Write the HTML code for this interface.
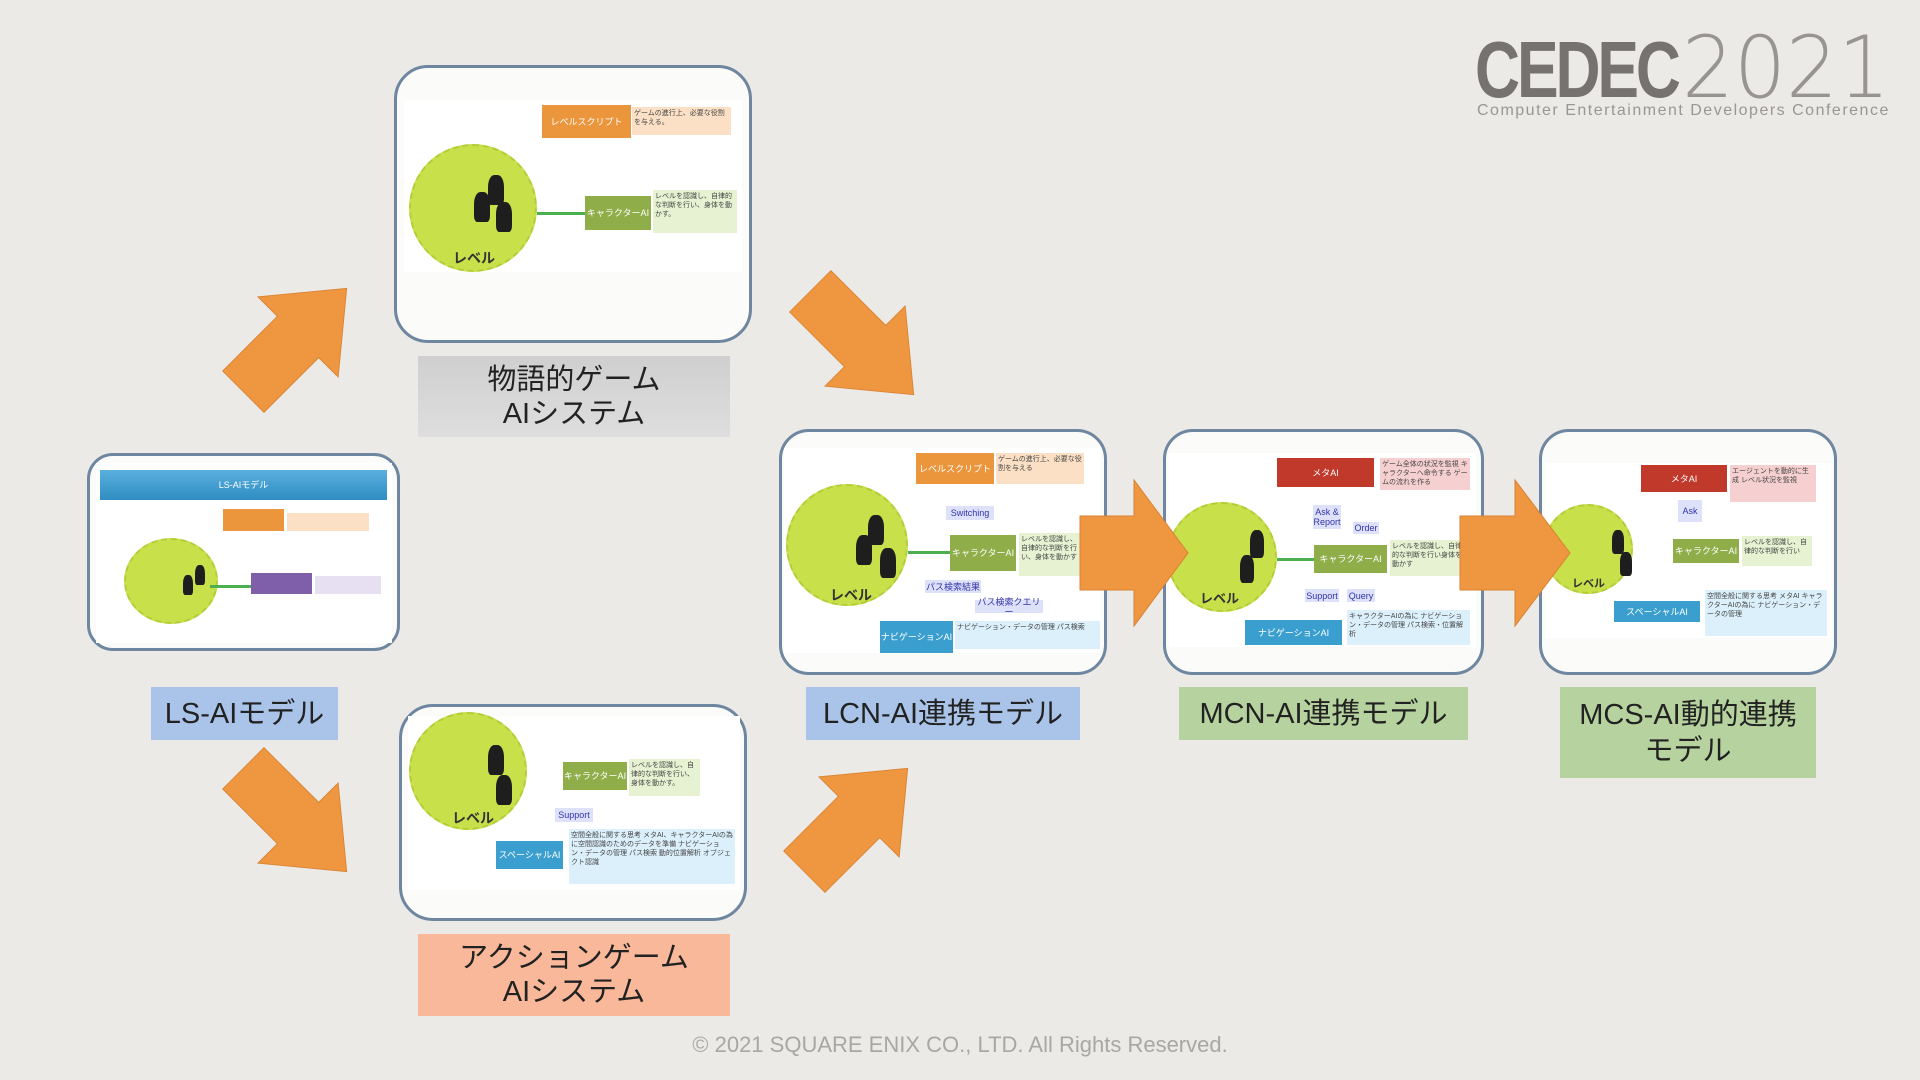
<!DOCTYPE html>
<html><head><meta charset="utf-8"><style>
*{margin:0;padding:0;box-sizing:border-box}
body{width:1920px;height:1080px;background:#ebeae6;position:relative;overflow:hidden;font-family:"Liberation Sans","Noto Sans CJK JP",sans-serif}
.a{position:absolute}
.card{position:absolute;border:3px solid #6e86a0;border-radius:34px;background:#fbfbfa}
.in{position:absolute;background:#fff}
.lbl{position:absolute;display:flex;align-items:center;justify-content:center;text-align:center;font-size:29px;line-height:34px;color:#222}
.b{position:absolute;font-size:9px;color:#fff;display:flex;align-items:center;justify-content:center;text-align:center;line-height:10px}
.n{position:absolute;font-size:7px;color:#444;line-height:9px;padding:2px}
.c{position:absolute;border-radius:50%;background:#c8e04a;border:2px dashed #b5cc38}
.m{position:absolute;background:#1e1e1e;border-radius:40% 40% 20% 20%}
.t{position:absolute;font-size:11px;color:#333;font-weight:bold}
</style></head><body>

<!-- top card -->
<div class="card" style="left:394px;top:65px;width:358px;height:278px"></div>
<div class="in" style="left:404px;top:100px;width:338px;height:172px"></div>
<div class="c" style="left:409px;top:144px;width:128px;height:128px"></div>
<div class="t" style="left:453px;top:248px;font-size:14px">レベル</div>
<div class="m" style="left:488px;top:175px;width:16px;height:30px"></div>
<div class="m" style="left:474px;top:192px;width:16px;height:30px"></div>
<div class="m" style="left:496px;top:202px;width:16px;height:30px"></div>
<div class="b" style="left:542px;top:105px;width:89px;height:33px;background:#eb963c">レベルスクリプト</div>
<div class="n" style="left:632px;top:107px;width:99px;height:28px;background:#fbe0c6">ゲームの進行上、必要な役割を与える。</div>
<div class="b" style="left:585px;top:196px;width:66px;height:34px;background:#8fae4a">キャラクターAI</div>
<div class="n" style="left:653px;top:190px;width:84px;height:43px;background:#e6f2d2">レベルを認識し、自律的な判断を行い、身体を動かす。</div>
<div class="a" style="left:537px;top:212px;width:48px;height:3px;background:#4cb050"></div>

<div class="lbl" style="left:418px;top:356px;width:312px;height:81px;background:linear-gradient(#cfcfcf,#dedede);">物語的ゲーム<br>AIシステム</div>

<!-- LS card -->
<div class="card" style="left:87px;top:453px;width:313px;height:198px;border-radius:26px"></div>
<div class="in" style="left:96px;top:463px;width:296px;height:180px"></div>
<div class="b" style="left:100px;top:470px;width:287px;height:30px;background:linear-gradient(#5ab0de,#2f8dc2)">LS-AIモデル</div>
<div class="c" style="left:124px;top:538px;width:94px;height:86px"></div>
<div class="m" style="left:195px;top:565px;width:10px;height:20px"></div>
<div class="m" style="left:183px;top:575px;width:10px;height:20px"></div>
<div class="b" style="left:223px;top:509px;width:61px;height:22px;background:#eb963c"></div>
<div class="n" style="left:287px;top:513px;width:82px;height:18px;background:#fbe0c6"></div>
<div class="b" style="left:251px;top:573px;width:61px;height:21px;background:#7f5eaa"></div>
<div class="n" style="left:315px;top:576px;width:66px;height:18px;background:#e6e0f2"></div>
<div class="a" style="left:210px;top:585px;width:41px;height:3px;background:#4cb050"></div>
<div class="lbl" style="left:151px;top:687px;width:187px;height:53px;background:#a9c4e8">LS-AIモデル</div>

<!-- bottom card -->
<div class="card" style="left:399px;top:704px;width:348px;height:217px"></div>
<div class="in" style="left:408px;top:716px;width:332px;height:174px"></div>
<div class="c" style="left:409px;top:712px;width:118px;height:118px"></div>
<div class="t" style="left:452px;top:808px;font-size:14px">レベル</div>
<div class="m" style="left:488px;top:745px;width:16px;height:30px"></div>
<div class="m" style="left:496px;top:775px;width:16px;height:30px"></div>
<div class="b" style="left:563px;top:762px;width:64px;height:28px;background:#8fae4a">キャラクターAI</div>
<div class="n" style="left:629px;top:759px;width:71px;height:37px;background:#e6f2d2">レベルを認識し、自律的な判断を行い、身体を動かす。</div>
<div class="b" style="left:555px;top:808px;width:38px;height:14px;background:#dde2fa;color:#33a">Support</div>
<div class="b" style="left:496px;top:841px;width:67px;height:28px;background:#3a9fcf">スペーシャルAI</div>
<div class="n" style="left:569px;top:829px;width:166px;height:55px;background:#dcf0fc">空間全般に関する思考 メタAI、キャラクターAIの為に空間認識のためのデータを準備 ナビゲーション・データの管理 パス検索 動的位置解析 オブジェクト認識</div>
<div class="lbl" style="left:418px;top:934px;width:312px;height:82px;background:#f9b89a">アクションゲーム<br>AIシステム</div>

<!-- LCN -->
<div class="card" style="left:779px;top:429px;width:328px;height:246px;border-radius:30px"></div>
<div class="in" style="left:784px;top:448px;width:316px;height:205px"></div>
<div class="c" style="left:786px;top:484px;width:122px;height:122px"></div>
<div class="t" style="left:830px;top:585px;font-size:14px">レベル</div>
<div class="m" style="left:868px;top:515px;width:16px;height:30px"></div>
<div class="m" style="left:856px;top:535px;width:16px;height:30px"></div>
<div class="m" style="left:880px;top:548px;width:16px;height:30px"></div>
<div class="b" style="left:916px;top:453px;width:78px;height:31px;background:#eb963c">レベルスクリプト</div>
<div class="n" style="left:996px;top:453px;width:88px;height:31px;background:#fbe0c6">ゲームの進行上、必要な役割を与える</div>
<div class="b" style="left:946px;top:506px;width:48px;height:14px;background:#dde2fa;color:#33a">Switching</div>
<div class="b" style="left:950px;top:535px;width:66px;height:36px;background:#8fae4a">キャラクターAI</div>
<div class="n" style="left:1019px;top:533px;width:65px;height:43px;background:#e6f2d2">レベルを認識し、自律的な判断を行い、身体を動かす</div>
<div class="b" style="left:925px;top:580px;width:56px;height:13px;background:#dde2fa;color:#33a">パス検索結果</div>
<div class="b" style="left:975px;top:600px;width:68px;height:13px;background:#dde2fa;color:#33a">パス検索クエリー</div>
<div class="b" style="left:880px;top:621px;width:73px;height:32px;background:#3a9fcf">ナビゲーションAI</div>
<div class="n" style="left:955px;top:621px;width:145px;height:28px;background:#dcf0fc">ナビゲーション・データの管理 パス検索</div>
<div class="a" style="left:908px;top:551px;width:42px;height:3px;background:#4cb050"></div>
<div class="lbl" style="left:806px;top:687px;width:274px;height:53px;background:#a9c4e8">LCN-AI連携モデル</div>

<!-- MCN -->
<div class="card" style="left:1163px;top:429px;width:321px;height:246px;border-radius:30px"></div>
<div class="in" style="left:1169px;top:453px;width:307px;height:194px"></div>
<div class="c" style="left:1167px;top:502px;width:110px;height:110px"></div>
<div class="t" style="left:1200px;top:588px;font-size:13px">レベル</div>
<div class="m" style="left:1250px;top:530px;width:14px;height:28px"></div>
<div class="m" style="left:1240px;top:555px;width:14px;height:28px"></div>
<div class="b" style="left:1277px;top:458px;width:97px;height:29px;background:#c0392b">メタAI</div>
<div class="n" style="left:1380px;top:458px;width:90px;height:32px;background:#f6d0d0">ゲーム全体の状況を監視 キャラクターへ命令する ゲームの流れを作る</div>
<div class="b" style="left:1313px;top:505px;width:28px;height:24px;background:#dde2fa;color:#33a">Ask &amp; Report</div>
<div class="b" style="left:1353px;top:522px;width:26px;height:12px;background:#dde2fa;color:#33a">Order</div>
<div class="b" style="left:1314px;top:545px;width:73px;height:28px;background:#8fae4a">キャラクターAI</div>
<div class="n" style="left:1390px;top:540px;width:80px;height:36px;background:#e6f2d2">レベルを認識し、自律的な判断を行い身体を動かす</div>
<div class="b" style="left:1305px;top:589px;width:34px;height:13px;background:#dde2fa;color:#33a">Support</div>
<div class="b" style="left:1347px;top:589px;width:28px;height:13px;background:#dde2fa;color:#33a">Query</div>
<div class="b" style="left:1245px;top:620px;width:97px;height:25px;background:#3a9fcf">ナビゲーションAI</div>
<div class="n" style="left:1347px;top:610px;width:123px;height:35px;background:#dcf0fc">キャラクターAIの為に ナビゲーション・データの管理 パス検索・位置解析</div>
<div class="a" style="left:1277px;top:558px;width:37px;height:3px;background:#4cb050"></div>
<div class="lbl" style="left:1179px;top:687px;width:289px;height:53px;background:#b6d39f">MCN-AI連携モデル</div>

<!-- MCS -->
<div class="card" style="left:1539px;top:429px;width:298px;height:246px;border-radius:30px"></div>
<div class="in" style="left:1545px;top:463px;width:287px;height:175px"></div>
<div class="c" style="left:1543px;top:504px;width:90px;height:90px"></div>
<div class="t" style="left:1572px;top:575px;font-size:11px">レベル</div>
<div class="m" style="left:1612px;top:530px;width:12px;height:24px"></div>
<div class="m" style="left:1620px;top:552px;width:12px;height:24px"></div>
<div class="b" style="left:1641px;top:465px;width:86px;height:27px;background:#c0392b">メタAI</div>
<div class="n" style="left:1730px;top:465px;width:86px;height:37px;background:#f6d0d0">エージェントを動的に生成 レベル状況を監視</div>
<div class="b" style="left:1678px;top:500px;width:24px;height:22px;background:#dde2fa;color:#33a">Ask</div>
<div class="b" style="left:1673px;top:539px;width:66px;height:24px;background:#8fae4a">キャラクターAI</div>
<div class="n" style="left:1742px;top:536px;width:70px;height:30px;background:#e6f2d2">レベルを認識し、自律的な判断を行い</div>
<div class="b" style="left:1614px;top:601px;width:86px;height:21px;background:#3a9fcf">スペーシャルAI</div>
<div class="n" style="left:1705px;top:590px;width:122px;height:46px;background:#dcf0fc">空間全般に関する思考 メタAI キャラクターAIの為に ナビゲーション・データの管理</div>
<div class="lbl" style="left:1560px;top:687px;width:256px;height:91px;background:#b6d39f;line-height:36px">MCS-AI動的連携<br>モデル</div>

<svg class="a" style="left:0;top:0" width="1920" height="1080">
<defs><polygon id="ar" points="-85,-34 5,-34 5,-66 85,0 5,66 5,34 -85,34"/></defs>
<g fill="#ef9641" stroke="#d98232" stroke-width="1">
<use href="#ar" transform="translate(295,340) rotate(-45) scale(0.86)"/>
<use href="#ar" transform="translate(862,343) rotate(45) scale(0.86)"/>
<use href="#ar" transform="translate(295,820) rotate(45) scale(0.86)"/>
<use href="#ar" transform="translate(856,820) rotate(-45) scale(0.86)"/>
<polygon points="1080,516 1134,516 1134,480 1188,553 1134,626 1134,590 1080,590"/>
<polygon points="1460,516 1515,516 1515,480 1570,553 1515,626 1515,590 1460,590"/>
</g>
</svg>

<!-- logo -->
<div class="a" style="left:1475px;top:30px;font-size:80px;font-weight:bold;color:#767270;letter-spacing:-4px;line-height:80px;transform:scaleX(0.78);transform-origin:left">CEDEC</div>
<div class="a" style="left:1682px;top:26px;font-size:86px;font-weight:100;color:#8a8684;line-height:84px;font-family:'DejaVu Sans','Liberation Sans',sans-serif;opacity:.85;transform:scaleX(0.95);transform-origin:left">2021</div>
<div class="a" style="left:1477px;top:102px;font-size:16px;color:#9a9694;white-space:nowrap;letter-spacing:1.5px">Computer Entertainment Developers Conference</div>

<div class="a" style="left:0;width:1920px;top:1032px;text-align:center;font-size:22px;color:#a9a7a4">© 2021 SQUARE ENIX CO., LTD. All Rights Reserved.</div>
</body></html>
